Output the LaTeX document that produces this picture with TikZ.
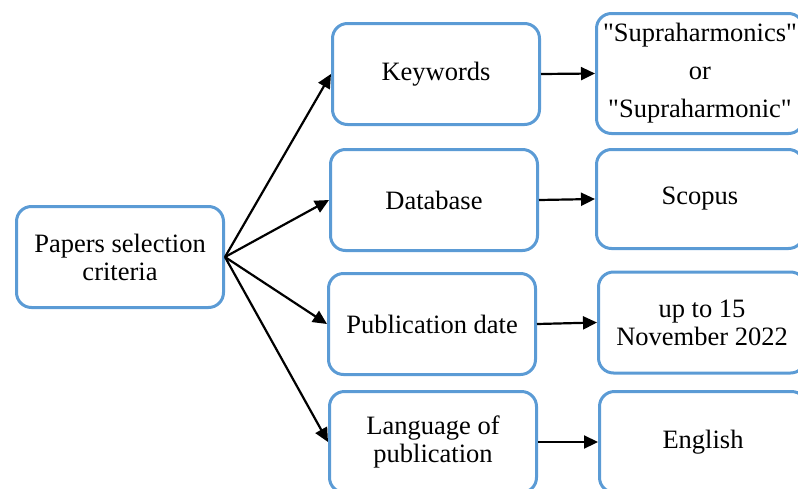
\documentclass[tikz,border=0pt]{standalone}
\usepackage{fontspec}
\setmainfont{Liberation Serif}[Ligatures=TeXOff]
\usetikzlibrary{arrows.meta}
\definecolor{boxblue}{HTML}{5B9BD5}
\begin{document}
\begin{tikzpicture}[x=1pt,y=-1pt,
  crit/.style={draw=boxblue, line width=3pt, rounded corners=15pt,
    minimum width=207pt, minimum height=101pt, align=center, inner sep=2pt,
    font=\fontsize{26.5}{28}\selectfont},
  link/.style={line width=2.2pt, -{Triangle[length=14pt,width=13pt]}}]
\useasboundingbox (0,0) rectangle (798,488);
\clip (0,0) rectangle (798,488);

% root criterion
\node[crit] (root) at (120,257) {Papers selection\\criteria};

% criteria column
\node[crit] (kw)   at (436,74)  {Keywords};
\node[crit] (db)   at (434,200) {Database};
\node[crit] (pd)   at (432,324) {Publication date};
\node[crit] (lang) at (433,442) {Language of\\publication};

% values column
\node[crit, minimum height=120pt, font=\fontsize{26.5}{38}\selectfont]
  (sup) at (700,73.5) {"Supraharmonics"\\or\\"Supraharmonic"};
\node[crit, minimum height=99pt] (sco) at (700,199) {Scopus};
\node[crit] (upto) at (702,322.5) {up to 15\\November 2022};
\node[crit] (eng)  at (703,442) {English};

% connectors
\draw[link] (root.east) -- (kw.west);
\draw[link] (root.east) -- (db.west);
\draw[link] (root.east) -- (pd.west);
\draw[link] (root.east) -- (lang.west);
\draw[link] (kw.east) -- (sup.west);
\draw[link] (db.east) -- (sco.west);
\draw[link] (pd.east) -- (upto.west);
\draw[link] (lang.east) -- (eng.west);
\end{tikzpicture}
\end{document}
